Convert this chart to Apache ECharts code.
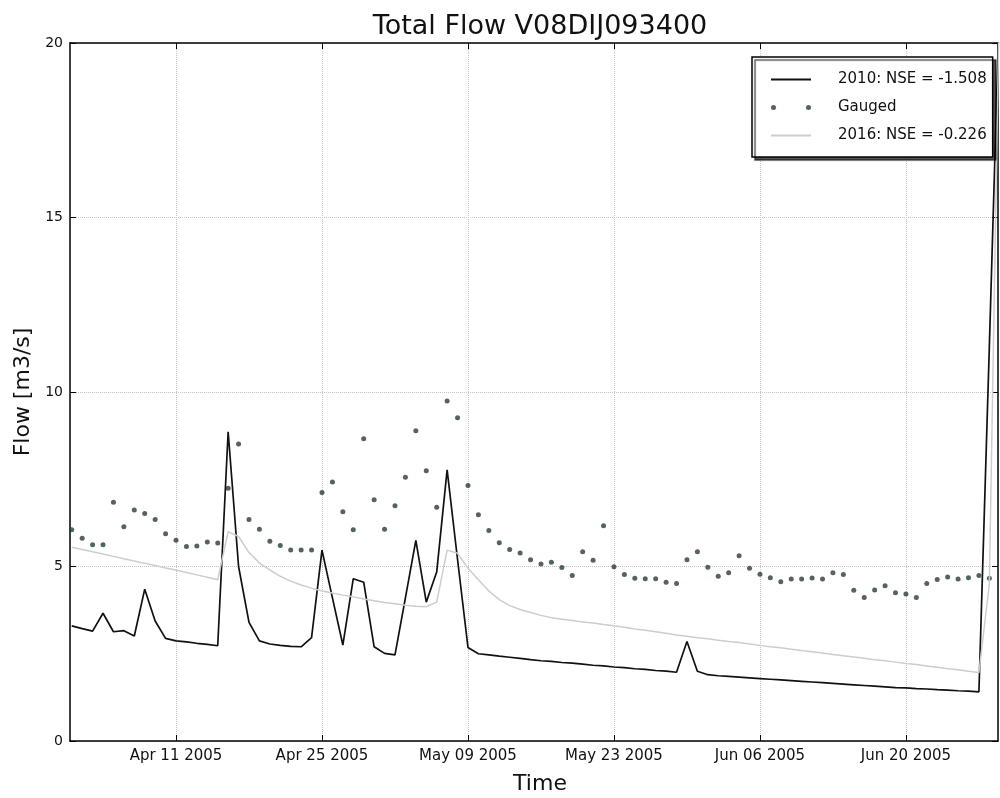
<!DOCTYPE html>
<html lang="en">
<head>
  <meta charset="UTF-8">
  <title>Total Flow V08DIJ093400</title>
  <script src="https://cdn.jsdelivr.net/npm/echarts@6/dist/echarts.min.js"></script>
  <style>
    html, body { margin: 0; padding: 0; background: #fff; }
    #chart { width: 1000px; height: 798px; }
  </style>
</head>
<body>
  <div id="chart"></div>
  <script>
    // one value per day, first day is Apr 1 2005
    var startDate = '2005-04-01'

    var sim2010 = [
      3.30, 3.22, 3.15, 3.66, 3.13, 3.16, 3.01, 4.35, 3.44, 2.94,
      2.87, 2.84, 2.80, 2.77, 2.73, 8.86, 5.00, 3.40, 2.87, 2.78,
      2.74, 2.71, 2.70, 2.96, 5.47, 4.10, 2.75, 4.65, 4.55, 2.70,
      2.51, 2.47, 4.10, 5.75, 3.98, 4.84, 7.77, 5.20, 2.68, 2.50,
      2.47, 2.43, 2.40, 2.37, 2.33, 2.30, 2.28, 2.25, 2.23, 2.20,
      2.17, 2.15, 2.12, 2.10, 2.07, 2.05, 2.02, 2.00, 1.97, 2.85,
      2.00, 1.90, 1.87, 1.85, 1.83, 1.81, 1.79, 1.77, 1.75, 1.73,
      1.71, 1.69, 1.67, 1.65, 1.63, 1.61, 1.59, 1.57, 1.55, 1.53,
      1.52, 1.50, 1.49, 1.47, 1.46, 1.44, 1.43, 1.41, 11.3, 21.5
    ]

    var gauged = [
      6.05, 5.81, 5.62, 5.62, 6.84, 6.14, 6.62, 6.52, 6.35, 5.94,
      5.75, 5.57, 5.59, 5.70, 5.67, 7.24, 8.51, 6.35, 6.07, 5.72,
      5.60, 5.47, 5.47, 5.47, 7.12, 7.42, 6.57, 6.05, 8.66, 6.91,
      6.07, 6.74, 7.56, 8.89, 7.74, 6.70, 9.74, 9.26, 7.32, 6.48,
      6.03, 5.68, 5.49, 5.39, 5.19, 5.07, 5.12, 4.97, 4.74, 5.42,
      5.18, 6.17, 4.99, 4.77, 4.66, 4.65, 4.65, 4.55, 4.51, 5.19,
      5.42, 4.98, 4.72, 4.82, 5.31, 4.95, 4.78, 4.68, 4.56, 4.64,
      4.64, 4.67, 4.64, 4.82, 4.77, 4.32, 4.11, 4.33, 4.45, 4.25,
      4.21, 4.11, 4.51, 4.63, 4.70, 4.64, 4.68, 4.74, 4.66
    ]

    var sim2016 = [
      5.55, 5.49, 5.42, 5.36, 5.29, 5.22, 5.16, 5.09, 5.03, 4.96,
      4.90, 4.83, 4.76, 4.69, 4.62, 6.00, 5.86, 5.40, 5.10, 4.90,
      4.72, 4.58, 4.47, 4.38, 4.30, 4.24, 4.18, 4.13, 4.07, 4.02,
      3.97, 3.93, 3.89, 3.86, 3.85, 3.98, 5.47, 5.38, 4.95, 4.62,
      4.30, 4.05, 3.88, 3.77, 3.68, 3.60, 3.53, 3.49, 3.45, 3.41,
      3.38, 3.34, 3.30, 3.26, 3.21, 3.17, 3.13, 3.09, 3.04, 3.00,
      2.96, 2.93, 2.89, 2.85, 2.82, 2.78, 2.74, 2.70, 2.67, 2.63,
      2.59, 2.56, 2.52, 2.48, 2.44, 2.41, 2.37, 2.33, 2.30, 2.26,
      2.22, 2.19, 2.15, 2.11, 2.07, 2.04, 2.00, 1.96, 4.50, 22.0
    ]

    var tickDates = ['2005-04-11', '2005-04-25', '2005-05-09', '2005-05-23', '2005-06-06', '2005-06-20']
    var tickLabels = ['Apr 11 2005', 'Apr 25 2005', 'May 09 2005', 'May 23 2005', 'Jun 06 2005', 'Jun 20 2005']

    function utc(s) {
      var p = s.split('-')
      return Date.UTC(+p[0], +p[1] - 1, +p[2])
    }
    var DAY = 24 * 3600 * 1000
    var t0 = utc(startDate)
    // x is counted in days from startDate
    function pairs(arr) {
      return arr.map(function (v, i) { return [i, v] })
    }
    var tickVals = tickDates.map(function (d) { return Math.round((utc(d) - t0) / DAY) })
    var xMin = -1 / 6
    var xMax = 88.83

    var font = 'DejaVu Sans'
    var frame = { show: true, onZero: false, lineStyle: { color: '#000', width: 1.5 } }
    var tick = { show: true, inside: true, length: 6, lineStyle: { color: '#000', width: 1 } }
    var grid = { show: true, lineStyle: { color: '#c4c4c4', type: 'dotted', width: 1 } }

    var gaugedIcon = 'path://M0,2.5a2.5,2.5 0 1,0 5,0a2.5,2.5 0 1,0 -5,0zM35,2.5a2.5,2.5 0 1,0 5,0a2.5,2.5 0 1,0 -5,0z'
    var noMarker = { color: 'rgba(0,0,0,0)', borderColor: 'rgba(0,0,0,0)', borderWidth: 0 }

    var mCharts = echarts.init(document.getElementById('chart'))
    var option = {
      animation: false,
      backgroundColor: '#fff',
      title: {
        text: 'Total Flow V08DIJ093400',
        left: 535,
        top: 8,
        textAlign: 'center',
        textStyle: { fontFamily: font, fontSize: 27, fontWeight: 'normal', color: '#111' }
      },
      grid: { left: 70, right: 2, top: 43, bottom: 57, outerBoundsMode: 'none' },
      legend: {
        orient: 'vertical',
        left: 752,
        top: 57,
        padding: [15, 6, 14, 18],
        itemWidth: 40,
        itemHeight: 5,
        itemGap: 13,
        backgroundColor: '#fff',
        borderColor: '#000',
        borderWidth: 1.5,
        shadowColor: 'rgba(0,0,0,0.65)',
        shadowBlur: 1,
        shadowOffsetX: 3,
        shadowOffsetY: 3,
        textStyle: { fontFamily: font, fontSize: 15, color: '#111', padding: [3, 0, 0, 22] },
        data: [
          { name: '2010: NSE = -1.508', itemStyle: noMarker },
          { name: 'Gauged', icon: gaugedIcon },
          { name: '2016: NSE = -0.226', itemStyle: noMarker }
        ]
      },
      xAxis: [
        {
          type: 'value', min: xMin, max: xMax, position: 'bottom',
          axisLine: frame,
          axisTick: Object.assign({ customValues: tickVals }, tick),
          axisLabel: {
            customValues: tickVals,
            margin: 8,
            fontFamily: font, fontSize: 15, color: '#111',
            formatter: function (v) {
              var i = tickVals.indexOf(Math.round(v))
              return i >= 0 ? tickLabels[i] : ''
            }
          },
          splitLine: grid,
          name: 'Time',
          nameLocation: 'middle',
          nameGap: 32,
          nameTextStyle: { fontFamily: font, fontSize: 22, color: '#111', padding: [0, 0, 0, 12] }
        },
        {
          type: 'value', min: xMin, max: xMax, position: 'top',
          axisLine: frame,
          axisTick: Object.assign({ customValues: tickVals }, tick),
          axisLabel: { show: false },
          splitLine: { show: false }
        }
      ],
      yAxis: [
        {
          type: 'value', min: 0, max: 20, interval: 5, position: 'left',
          axisLine: frame,
          axisTick: tick,
          axisLabel: { margin: 7, fontFamily: font, fontSize: 14, color: '#111' },
          splitLine: grid,
          name: 'Flow [m3/s]',
          nameLocation: 'middle',
          nameGap: 34,
          nameTextStyle: { fontFamily: font, fontSize: 22, color: '#111' }
        },
        {
          type: 'value', min: 0, max: 20, interval: 5, position: 'right',
          axisLine: frame,
          axisTick: tick,
          axisLabel: { show: false },
          splitLine: { show: false }
        }
      ],
      series: [
        {
          name: '2010: NSE = -1.508',
          type: 'line',
          symbol: 'none',
          color: '#111',
          lineStyle: { color: '#111', width: 1.7 },
          data: pairs(sim2010)
        },
        {
          name: 'Gauged',
          type: 'scatter',
          symbol: 'circle',
          symbolSize: 5,
          color: '#2c3a3a',
          itemStyle: { color: '#2c3a3a' },
          data: pairs(gauged)
        },
        {
          name: '2016: NSE = -0.226',
          type: 'line',
          symbol: 'none',
          color: '#cdcdcd',
          lineStyle: { color: '#cdcdcd', width: 1.5 },
          data: pairs(sim2016)
        }
      ]
    }
    mCharts.setOption(option)
  </script>
</body>
</html>
